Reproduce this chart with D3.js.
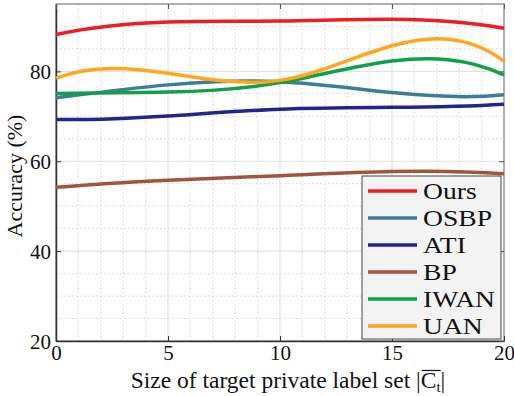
<!DOCTYPE html>
<html>
<head>
<meta charset="utf-8">
<script src="https://cdn.jsdelivr.net/npm/d3@7"></script>
<style>
  body { margin: 0; background: #fff; }
  text { font-family: "Liberation Serif", "Times New Roman", serif; fill: #111; }
</style>
</head>
<body>
<div id="chart"></div>
<script>
// x values: size of target private label set
var sizes = [0, 5, 10, 15, 20];

// accuracy per method (%)
var methods = ["Ours", "OSBP", "ATI", "BP", "IWAN", "UAN"];
var ours = [88.2, 91.0, 91.2, 91.6, 89.6];
var osbp = [74.1, 77.0, 77.7, 75.3, 74.8];
var ati  = [69.3, 70.1, 71.6, 72.0, 72.7];
var bp   = [54.2, 55.8, 56.8, 57.7, 57.2];
var iwan = [75.1, 75.4, 77.5, 82.3, 79.2];
var uan  = [78.5, 79.6, 78.0, 85.7, 82.3];

var xTicks = [0, 5, 10, 15, 20];
var yTicks = [20, 40, 60, 80];

var colors = ["#ee1c25", "#3d7d98", "#24248f", "#a0553c", "#10a04a", "#ffa61c"];
var series = [ours, osbp, ati, bp, iwan, uan];

// cubic spline with not-a-knot ends (like matlab's spline), as a d3 curve
function curveSpline(context) {
  return {
    areaStart: function() {}, areaEnd: function() {},
    lineStart: function() { this._x = []; this._y = []; },
    point: function(x, y) { this._x.push(+x); this._y.push(+y); },
    lineEnd: function() {
      var X = this._x, Y = this._y, n = X.length;
      if (n < 4) {
        X.forEach(function(v, i){ i ? context.lineTo(v, Y[i]) : context.moveTo(v, Y[i]); });
        return;
      }
      var h = X[1] - X[0];
      var m = n - 2, a = [], b = [], c = [], r = [];
      for (var i = 1; i <= m; i++) {
        r.push(6 / (h * h) * (Y[i-1] - 2 * Y[i] + Y[i+1]));
        a.push(1); b.push(4); c.push(1);
      }
      b[0] = 6; c[0] = 0; a[m-1] = 0; b[m-1] = 6;
      for (var k = 1; k < m; k++) {
        var w = a[k] / b[k-1];
        b[k] -= w * c[k-1];
        r[k] -= w * r[k-1];
      }
      var M = new Array(n);
      M[m] = r[m-1] / b[m-1];
      for (var k = m - 2; k >= 0; k--) M[k+1] = (r[k] - c[k] * M[k+2]) / b[k];
      M[0] = 2 * M[1] - M[2];
      M[n-1] = 2 * M[n-2] - M[n-3];
      context.moveTo(X[0], Y[0]);
      for (var i = 0; i < n - 1; i++) {
        var s = (Y[i+1] - Y[i]) / h;
        var d0 = s - h * (2 * M[i] + M[i+1]) / 6;
        var d1 = s + h * (M[i] + 2 * M[i+1]) / 6;
        context.bezierCurveTo(X[i] + h / 3, Y[i] + d0 * h / 3,
                              X[i+1] - h / 3, Y[i+1] - d1 * h / 3,
                              X[i+1], Y[i+1]);
      }
    }
  };
}

var W = 514, H = 396;
var margin = {top: 4, right: 10, bottom: 55, left: 56};
var width = W - margin.left - margin.right,
    height = H - margin.top - margin.bottom;

var svg = d3.select("#chart").append("svg")
    .attr("width", W)
    .attr("height", H);

var g = svg.append("g")
    .attr("transform", "translate(" + margin.left + "," + margin.top + ")");

var x = d3.scaleLinear().domain([0, 20]).range([0, width]);
var y = d3.scaleLinear().domain([20, 95]).range([height, 0]);

// minor grid (dotted)
g.append("g").selectAll("line")
  .data(d3.range(1, 20).filter(function(d){ return d % 5 != 0; }))
  .enter().append("line")
    .attr("x1", function(d){ return x(d); }).attr("x2", function(d){ return x(d); })
    .attr("y1", 0).attr("y2", height)
    .attr("stroke", "#d4d4d4").attr("stroke-width", 1).attr("stroke-dasharray", "1.5,2.5");
g.append("g").selectAll("line")
  .data(d3.range(25, 95, 5).filter(function(d){ return d % 20 != 0; }))
  .enter().append("line")
    .attr("y1", function(d){ return y(d); }).attr("y2", function(d){ return y(d); })
    .attr("x1", 0).attr("x2", width)
    .attr("stroke", "#d4d4d4").attr("stroke-width", 1).attr("stroke-dasharray", "1.5,2.5");

// major grid
g.append("g").selectAll("line")
  .data(xTicks.slice(1, -1))
  .enter().append("line")
    .attr("x1", function(d){ return x(d); }).attr("x2", function(d){ return x(d); })
    .attr("y1", 0).attr("y2", height)
    .attr("stroke", "#e2e2e2").attr("stroke-width", 1.2);
g.append("g").selectAll("line")
  .data(yTicks.slice(1))
  .enter().append("line")
    .attr("y1", function(d){ return y(d); }).attr("y2", function(d){ return y(d); })
    .attr("x1", 0).attr("x2", width)
    .attr("stroke", "#e2e2e2").attr("stroke-width", 1.2);

// box (top/right)
g.append("rect")
  .attr("width", width).attr("height", height)
  .attr("fill", "none").attr("stroke", "#7a7a7a").attr("stroke-width", 1.2);

// axes
var xAxis = d3.axisBottom(x).tickValues(xTicks).tickSize(-5).tickPadding(4).tickSizeOuter(0);
var yAxis = d3.axisLeft(y).tickValues(yTicks).tickSize(-5).tickPadding(5).tickSizeOuter(0);

var gx = g.append("g").attr("transform", "translate(0," + height + ")").call(xAxis);
var gy = g.append("g").call(yAxis);
[gx, gy].forEach(function(a){
  a.select(".domain").attr("stroke", "#333").attr("stroke-width", 1.5);
  a.selectAll(".tick line").attr("stroke", "#333");
  a.selectAll(".tick text").style("font-family", "Liberation Serif").style("font-size", "21px").attr("fill", "#111");
});
gx.selectAll(".tick text").attr("dy", "0.71em");
gy.selectAll(".tick text").attr("dy", "0.35em");

// mirrored ticks on top and right
g.append("g").call(d3.axisTop(x).tickValues(xTicks).tickSize(-5).tickFormat("").tickSizeOuter(0))
  .call(function(a){ a.select(".domain").remove(); a.selectAll("line").attr("stroke", "#555"); });
g.append("g").attr("transform", "translate(" + width + ",0)")
  .call(d3.axisRight(y).tickValues(yTicks).tickSize(-5).tickFormat("").tickSizeOuter(0))
  .call(function(a){ a.select(".domain").remove(); a.selectAll("line").attr("stroke", "#555"); });

// lines
var line = d3.line()
  .x(function(d, i){ return x(sizes[i]); })
  .y(function(d){ return y(d); })
  .curve(curveSpline);

g.append("g").selectAll("path")
  .data(series)
  .enter().append("path")
    .attr("d", line)
    .attr("fill", "none")
    .attr("stroke", function(d, i){ return colors[i]; })
    .attr("stroke-width", 3.5);

// legend
var lg = g.append("g").attr("transform", "translate(" + (362 - margin.left) + "," + (176 - margin.top) + ")");
lg.append("rect")
  .attr("width", 139).attr("height", 163)
  .attr("fill", "#f3f3f3").attr("stroke", "#444").attr("stroke-width", 1);
methods.forEach(function(m, i){
  var yy = 15 + i * 27;
  lg.append("line")
    .attr("x1", 6).attr("x2", 55).attr("y1", yy).attr("y2", yy)
    .attr("stroke", colors[i]).attr("stroke-width", 3.5);
  lg.append("text")
    .attr("transform", "translate(61," + yy + ") scale(1.2,1)")
    .attr("dy", "0.35em")
    .style("font-size", "23px")
    .text(m);
});

// axis labels
var xl = svg.append("text")
  .attr("x", 288).attr("y", 388)
  .attr("text-anchor", "middle")
  .style("font-size", "23.5px");
var pre = "Size of target private label set |";
xl.append("tspan").text(pre);
xl.append("tspan").text("C");
xl.append("tspan").attr("dy", 4).style("font-size", "15px").text("t");
xl.append("tspan").attr("dy", -4).text("|");
// overline over C_t
var node = xl.node();
var x0 = node.getStartPositionOfChar(pre.length).x,
    x1 = node.getEndPositionOfChar(pre.length + 1).x;
svg.append("line")
  .attr("x1", x0 + 1).attr("x2", x1)
  .attr("y1", 388 - 17.5).attr("y2", 388 - 17.5)
  .attr("stroke", "#111").attr("stroke-width", 1.2);

svg.append("text")
  .attr("transform", "translate(22," + 176 + ") rotate(-90)")
  .attr("text-anchor", "middle")
  .style("font-size", "22px")
  .text("Accuracy (%)");
</script>
</body>
</html>
